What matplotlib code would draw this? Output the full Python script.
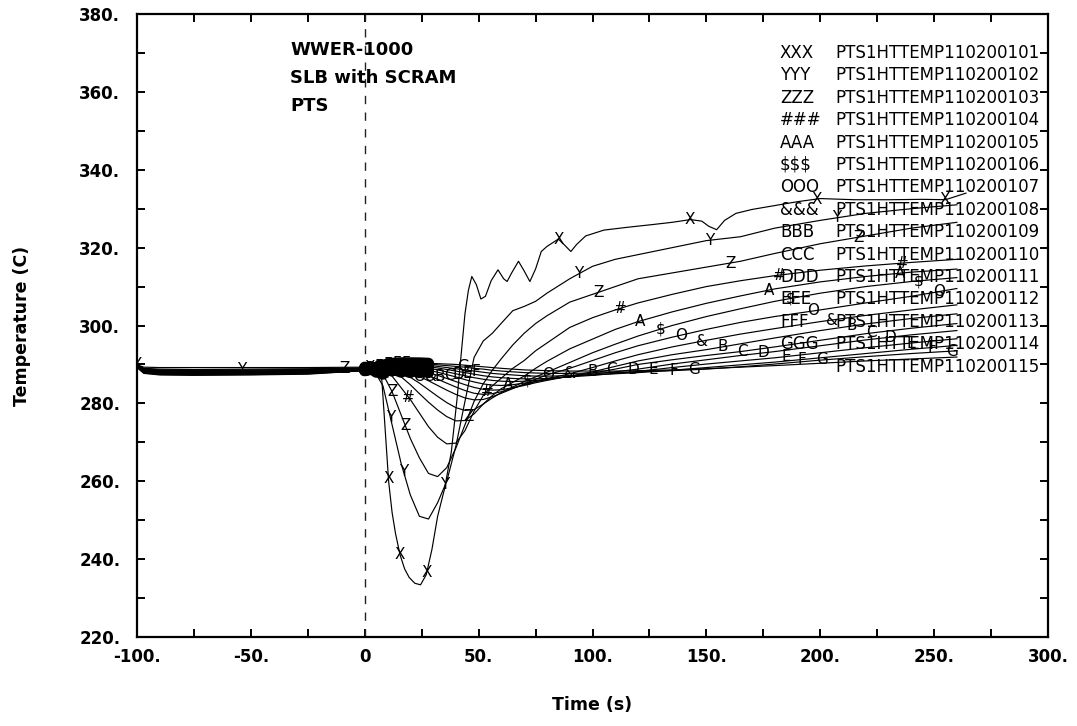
import numpy as np
import matplotlib
matplotlib.use("Agg")
import matplotlib.pyplot as plt
from matplotlib.ticker import MultipleLocator, FixedLocator, FixedFormatter

# ---------------- data ----------------
# curve 1 (XXX) has its own time base (oscillating response)
t_x = [-100, -97, -90, -75, -50, -25, 0, 3, 5, 7.5, 9, 10.5, 12, 13.5, 15.5, 17.5, 19.5, 22, 24.5,
       27, 29.5, 32, 35, 38, 40.5, 42, 44, 45.5, 47, 49, 51, 53, 55.5, 58.5, 61, 62.5, 64.5, 67.5,
       70, 72.5, 75, 77.5, 80, 85, 88, 90.5, 93, 97, 105, 115, 126, 135, 143, 148, 151, 154.5,
       158, 163, 170, 180, 190, 200, 215, 230, 245, 255, 264]
T_x = [289.9, 289.3, 289.2, 289.2, 289.2, 289.2, 289.3, 289.0, 288.0, 286.0, 273.0, 259.9, 252.0,
       246.6, 241.1, 237.5, 235.3, 233.8, 233.4, 236.0, 242.5, 251.0, 258.0, 267.5, 281.0, 290.5,
       303.0, 309.0, 312.6, 310.5, 306.8, 307.5, 311.5, 314.3, 312.0, 311.3, 313.5, 316.5, 314.0,
       311.3, 314.5, 319.0, 320.3, 322.2, 320.5, 319.0, 320.8, 323.0, 324.5, 325.2, 325.9, 326.5,
       327.2, 326.8, 325.5, 324.6, 327.0, 328.8, 329.8, 330.8, 331.8, 332.6, 332.3, 332.3, 332.4,
       332.3, 334.0]

# common time base for curves 2..15
t_c = [-100, -97, -90, -75, -50, -25, 0, 4, 8, 12, 16, 20, 24, 28, 32, 36, 40, 44, 48, 52, 56, 60,
       65, 70, 75, 80, 90, 100, 110, 120, 135, 150, 165, 180, 200, 220, 240, 260]

T_y = [289.9, 289.0, 288.8, 288.7, 288.8, 288.9, 289.1, 288.5, 284.5, 274.5, 264.5, 256.5, 251.0,
       250.3, 254.5, 260.0, 269.0, 280.5, 291.8, 296.0, 298.0, 300.6, 303.8, 304.9, 306.2, 308.3,
       312.0, 315.2, 317.0, 318.2, 320.0, 321.8, 322.8, 325.0, 327.0, 328.8, 330.0, 331.0]
T_z = [289.8, 288.9, 288.6, 288.6, 288.6, 288.7, 289.0, 288.7, 287.5, 283.0, 277.0, 271.0, 266.0,
       262.0, 261.2, 263.5, 268.5, 274.5, 280.5, 285.0, 288.5, 291.5, 295.0, 298.0, 300.5, 302.5,
       306.0, 308.0, 310.0, 312.0, 313.5, 315.0, 316.5, 318.5, 321.0, 323.0, 325.0, 326.5]
T_h = [289.8, 288.8, 288.5, 288.4, 288.5, 288.6, 288.9, 288.8, 288.6, 287.0, 284.0, 281.0, 277.5,
       274.0, 271.3, 269.6, 269.8, 273.0, 278.0, 282.0, 284.5, 286.5, 289.0, 291.0, 293.5, 295.5,
       299.5, 302.0, 304.0, 305.8, 308.0, 310.0, 311.5, 312.8, 314.2, 315.3, 316.2, 317.0]
T_a = [289.7, 288.7, 288.4, 288.3, 288.3, 288.5, 288.9, 288.9, 289.0, 288.3, 286.8, 284.8, 282.5,
       280.3, 278.3, 276.6, 275.5, 275.6, 277.3, 279.8, 282.0, 283.8, 285.4, 287.0, 289.0, 290.8,
       294.0, 296.5, 299.0, 301.0, 303.5, 305.7, 307.6, 309.4, 311.2, 312.6, 313.7, 314.5]
T_s = [289.7, 288.6, 288.3, 288.2, 288.2, 288.4, 288.8, 289.0, 289.2, 288.9, 288.0, 286.7, 285.2,
       283.5, 281.8, 280.2, 278.9, 278.2, 278.4, 279.8, 281.4, 282.8, 284.2, 285.6, 286.8, 288.0,
       290.5, 293.0, 295.2, 297.3, 300.0, 302.3, 304.3, 306.2, 308.3, 310.0, 311.3, 312.3]
T_o = [289.6, 288.5, 288.2, 288.0, 288.1, 288.3, 288.8, 289.0, 289.3, 289.2, 288.7, 287.9, 286.9,
       285.8, 284.6, 283.4, 282.3, 281.4, 280.9, 281.0, 281.7, 282.6, 283.8, 285.0, 286.2, 287.3,
       289.0, 291.0, 293.0, 294.8, 297.0, 299.0, 300.8, 302.3, 304.0, 305.8, 307.5, 309.5]
T_amp = [289.6, 288.4, 288.0, 287.9, 288.0, 288.2, 288.7, 289.0, 289.4, 289.4, 289.1, 288.6, 287.9,
         287.1, 286.2, 285.2, 284.2, 283.3, 282.6, 282.3, 282.5, 283.0, 283.9, 284.8, 285.6, 286.3,
         287.6, 289.2, 290.9, 292.5, 294.5, 296.2, 297.8, 299.2, 301.0, 302.6, 304.0, 305.3]
T_b = [289.5, 288.3, 287.9, 287.8, 287.9, 288.1, 288.7, 289.0, 289.5, 289.6, 289.4, 289.0, 288.5,
       287.9, 287.2, 286.4, 285.6, 284.8, 284.1, 283.6, 283.4, 283.5, 284.0, 284.6, 285.3, 285.9,
       287.0, 288.1, 289.5, 290.9, 292.5, 293.8, 295.3, 296.8, 298.7, 300.4, 301.8, 303.0]
T_cc = [289.5, 288.2, 287.8, 287.7, 287.8, 288.0, 288.6, 289.0, 289.6, 289.8, 289.7, 289.4, 289.0,
        288.5, 288.0, 287.4, 286.8, 286.1, 285.5, 285.0, 284.7, 284.6, 284.8, 285.2, 285.6, 286.1,
        287.0, 287.8, 288.8, 290.0, 291.2, 292.3, 293.3, 294.5, 296.2, 297.9, 299.3, 300.5]
T_d = [289.4, 288.1, 287.7, 287.6, 287.7, 287.9, 288.6, 289.0, 289.6, 289.9, 289.9, 289.7, 289.4,
       289.0, 288.6, 288.1, 287.6, 287.1, 286.6, 286.2, 285.9, 285.7, 285.6, 285.7, 285.9, 286.2,
       286.9, 287.5, 288.1, 288.8, 290.1, 291.2, 292.3, 293.3, 294.8, 296.3, 297.6, 298.7]
T_e = [289.4, 288.0, 287.6, 287.5, 287.6, 287.8, 288.5, 289.0, 289.6, 290.0, 290.0, 289.9, 289.7,
       289.4, 289.1, 288.7, 288.3, 287.9, 287.5, 287.1, 286.8, 286.6, 286.4, 286.3, 286.3, 286.4,
       286.8, 287.2, 287.7, 288.2, 289.2, 290.1, 290.9, 291.7, 293.0, 294.3, 295.5, 296.6]
T_f = [289.3, 287.9, 287.5, 287.4, 287.5, 287.7, 288.5, 289.0, 289.7, 290.1, 290.2, 290.1, 290.0,
       289.8, 289.5, 289.2, 288.9, 288.6, 288.3, 288.0, 287.7, 287.5, 287.3, 287.1, 287.0, 287.0,
       287.1, 287.3, 287.6, 287.9, 288.5, 289.2, 289.9, 290.6, 291.7, 292.8, 293.9, 294.9]
T_g = [289.3, 287.8, 287.4, 287.3, 287.4, 287.6, 288.4, 289.0, 289.7, 290.2, 290.3, 290.3, 290.2,
       290.1, 289.9, 289.7, 289.5, 289.3, 289.0, 288.8, 288.5, 288.3, 288.1, 287.9, 287.8, 287.7,
       287.7, 287.8, 287.9, 288.1, 288.4, 288.8, 289.4, 290.1, 291.1, 292.0, 292.8, 293.5]
T_15 = [289.2, 287.7, 287.3, 287.2, 287.3, 287.5, 288.4, 289.0, 289.8, 290.3, 290.4, 290.4, 290.4,
        290.3, 290.2, 290.1, 290.0, 289.8, 289.6, 289.4, 289.2, 289.0, 288.8, 288.6, 288.5, 288.4,
        288.3, 288.3, 288.3, 288.4, 288.6, 288.9, 289.3, 289.7, 290.3, 290.9, 291.4, 291.9]

series_names = ["PTS1HTTEMP110200101", "PTS1HTTEMP110200102", "PTS1HTTEMP110200103",
                "PTS1HTTEMP110200104", "PTS1HTTEMP110200105", "PTS1HTTEMP110200106",
                "PTS1HTTEMP110200107", "PTS1HTTEMP110200108", "PTS1HTTEMP110200109",
                "PTS1HTTEMP110200110", "PTS1HTTEMP110200111", "PTS1HTTEMP110200112",
                "PTS1HTTEMP110200113", "PTS1HTTEMP110200114", "PTS1HTTEMP110200115"]
symbols = ["X", "Y", "Z", "#", "A", "$", "O", "&", "B", "C", "D", "E", "F", "G", ""]

# times at which the curve symbols are written on the curves
mark_t = [
    [-100, 10.4, 15.5, 27.2, 85, 142.8, 198.5, 254.7],
    [-54, 11.2, 17, 35.3, 94, 151.6, 207],
    [-9, 12, 17.8, 45.5, 102.6, 160.5, 216.8],
    [19.2, 53.6, 112, 181.8, 236],
    [63, 120.8, 177.4, 235],
    [71.5, 129.7, 187, 243],
    [24, 80.6, 139, 197, 252],
    [29, 90, 148, 205],
    [33, 100, 157, 214],
    [37, 108.5, 166, 222.6],
    [41, 118, 175, 231],
    [45, 126.8, 185, 240],
    [49, 135.6, 192, 249],
    [43, 144.4, 201, 258],
    [],
]
# symbols plotted densely in the first seconds of the transient
dense_t = [2, 6, 10, 14, 18]
blob_window = (0.0, 31.0)   # time span where the curves are drawn as heavy ink

annotation_lines = ["WWER-1000", "SLB with SCRAM", "PTS"]
xtick_vals = [-100, -50, 0, 50, 100, 150, 200, 250, 300]
xtick_labels = ["-100.", "-50.", "0", "50.", "100.", "150.", "200.", "250.", "300."]
ytick_vals = [220, 240, 260, 280, 300, 320, 340, 360, 380]
ytick_labels = ["220.", "240.", "260.", "280.", "300.", "320.", "340.", "360.", "380."]

# ---------------- plot ----------------
curves_T = [T_x, T_y, T_z, T_h, T_a, T_s, T_o, T_amp, T_b, T_cc, T_d, T_e, T_f, T_g, T_15]
curves_t = [t_x] + [t_c] * 14
for tt, TT in zip(curves_t, curves_T):
    assert len(tt) == len(TT), (len(tt), len(TT))

plt.rcParams['font.family'] = ['DejaVu Sans']
W, H = 1077, 726
fig = plt.figure(figsize=(W / 100, H / 100), dpi=100)
L, R, Tp, B = 137, 1048, 14, 637
ax = fig.add_axes([L / W, (H - B) / H, (R - L) / W, (B - Tp) / H])
ax.set_xlim(-100, 300)
ax.set_ylim(220, 380)

for tt, TT in zip(curves_t, curves_T):
    ax.plot(tt, TT, color='black', lw=0.85, zorder=3)
    ta, Ta = np.asarray(tt, float), np.asarray(TT, float)
    sel = (ta >= blob_window[0]) & (ta <= blob_window[1]) & (Ta >= 287.5)
    if sel.sum() >= 2:
        ax.plot(ta[sel], Ta[sel], color='black', lw=8, solid_capstyle='round', zorder=3)

mfs = 11
for k, (tt, TT) in enumerate(zip(curves_t, curves_T)):
    sym = symbols[k]
    if not sym:
        continue
    for mt in mark_t[k]:
        ax.text(mt, np.interp(mt, tt, TT), sym, ha='center', va='center', fontsize=mfs,
                color='black', parse_math=False, zorder=4, clip_on=True)
    if k % 3 == 0:
        for mt in dense_t:
            v = np.interp(mt, tt, TT)
            if v >= 287.5:
                ax.text(mt, v, sym, ha='center', va='center', fontsize=mfs, color='black',
                        parse_math=False, zorder=4, clip_on=True)

# vertical dashed line at t = 0
ax.axvline(0, color='#222222', lw=1.0, ls=(0, (6, 6)), zorder=2)

# annotation text
for i, s in enumerate(annotation_lines):
    ax.text((290 - L) / (R - L), 1 - (50 - Tp + i * 28) / (B - Tp), s, transform=ax.transAxes,
            fontsize=13, fontweight='bold', ha='left', va='center', parse_math=False)

# legend-like text block
for i, (sym, nm) in enumerate(zip(symbols, series_names)):
    yy = 1 - (53 - Tp + i * 22.4) / (B - Tp)
    if sym:
        ax.text((780 - L) / (R - L), yy, sym * 3, transform=ax.transAxes, fontsize=12,
                ha='left', va='center', parse_math=False, zorder=5)
    ax.text((835 - L) / (R - L), yy, nm, transform=ax.transAxes, fontsize=12,
            ha='left', va='center', parse_math=False, zorder=5)

# axes styling
for sp in ax.spines.values():
    sp.set_linewidth(1.6)
ax.xaxis.set_major_locator(FixedLocator(xtick_vals))
ax.xaxis.set_major_formatter(FixedFormatter(xtick_labels))
ax.xaxis.set_minor_locator(MultipleLocator(25))
ax.yaxis.set_major_locator(FixedLocator(ytick_vals))
ax.yaxis.set_major_formatter(FixedFormatter(ytick_labels))
ax.yaxis.set_minor_locator(MultipleLocator(10))
ax.tick_params(which='both', direction='in', top=True, right=True, length=6, width=1.4)
ax.tick_params(axis='x', which='major', labelsize=12, pad=8)
ax.tick_params(axis='y', which='major', labelsize=12, pad=12)
for lab in ax.get_xticklabels() + ax.get_yticklabels():
    lab.set_fontweight('bold')

ax.set_xlabel("Time (s)", fontsize=12.5, fontweight='bold')
ax.set_ylabel("Temperature (C)", fontsize=12.5, fontweight='bold')
ax.xaxis.label.set_va('center')
ax.yaxis.label.set_va('center')
ax.xaxis.set_label_coords(0.5, -(705 - B) / (B - Tp))
ax.yaxis.set_label_coords((22 - L) / (R - L), 0.5)

fig.savefig("out.png", dpi=100)
